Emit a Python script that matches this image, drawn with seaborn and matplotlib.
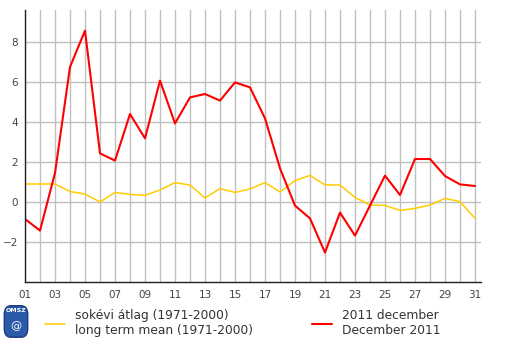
import numpy as np
import pandas as pd
import seaborn as sns
import matplotlib.pyplot as plt
from matplotlib.patches import FancyBboxPatch

days = list(range(1, 32))
mean_1971_2000 = [0.9, 0.9, 0.9, 0.52, 0.4, 0.0, 0.48, 0.38, 0.33, 0.6,
                  0.97, 0.85, 0.2, 0.67, 0.48, 0.65, 0.97, 0.5, 1.07, 1.33,
                  0.85, 0.85, 0.23, -0.15, -0.17, -0.42, -0.32, -0.15, 0.18, 0.02,
                  -0.82]
dec_2011 = [-0.85, -1.43, 1.45, 6.75, 8.57, 2.43, 2.07, 4.4, 3.18, 6.07,
            3.93, 5.23, 5.4, 5.07, 5.98, 5.73, 4.18, 1.68, -0.18, -0.82,
            -2.53, -0.53, -1.68, -0.18, 1.32, 0.35, 2.15, 2.15, 1.3, 0.88,
            0.8]
label_mean = "sokévi átlag (1971-2000)\nlong term mean (1971-2000)"
label_2011 = "2011 december\nDecember 2011"

df = pd.DataFrame({"day": days, "mean": mean_1971_2000, "dec": dec_2011})

sns.set_style("white")
plt.rcParams["font.family"] = ["DejaVu Sans"]

fig = plt.figure(figsize=(5.05, 3.42), dpi=100)
ax = fig.add_axes([25 / 505, 1 - 282 / 342, 456 / 505, 272 / 342])

sns.lineplot(data=df, x="day", y="mean", color="#ffcc00", linewidth=1.1,
             label=label_mean, ax=ax, legend=False)
sns.lineplot(data=df, x="day", y="dec", color="#ff0000", linewidth=1.5,
             label=label_2011, ax=ax, legend=False)

ax.set_xlim(1, 31.4)
ax.set_ylim(-4, 9.6)
ax.set_xticks(days)
ax.set_xticklabels([f"{d:02d}" if d % 2 == 1 else "" for d in days])
ax.set_yticks([-2, 0, 2, 4, 6, 8])
ax.set_yticks(list(range(-3, 10, 2)), minor=True)
ax.grid(True, which="major", color="#c0c0c0", linewidth=1)
ax.grid(False, which="minor")
ax.set_axisbelow(True)
ax.tick_params(axis="both", which="both", direction="out", length=4, width=1,
               color="#333333", labelsize=7.5, labelcolor="#444444", pad=2)
ax.tick_params(axis="y", which="both", length=3)
ax.set_xlabel("")
ax.set_ylabel("")
for side in ["top", "right"]:
    ax.spines[side].set_visible(False)
for side in ["left", "bottom"]:
    ax.spines[side].set_color("#222222")
    ax.spines[side].set_linewidth(1)

handles, labels = ax.get_legend_handles_labels()
fig.legend(handles, labels, loc="center left", bbox_to_anchor=(34 / 505, 1 - 323 / 342),
           ncol=2, frameon=False, fontsize=8.8, handlelength=1.65, handletextpad=0.8,
           columnspacing=4.85, labelcolor="#333333")

# OMSZ logo
lax = fig.add_axes([3 / 505, 1 - 339 / 342, 26 / 505, 35 / 342])
lax.axis("off")
lax.set_xlim(0, 1)
lax.set_ylim(0, 1)
lax.add_patch(FancyBboxPatch((0.05, 0.05), 0.9, 0.9, boxstyle="round,pad=0,rounding_size=0.25",
                             facecolor="#2a5aa8", edgecolor="#1a3a80"))
lax.text(0.5, 0.8, "OMSZ", color="white", fontsize=4.5, fontweight="bold",
         ha="center", va="center")
lax.text(0.5, 0.38, "@", color="white", fontsize=8, ha="center", va="center")

fig.savefig("out.png", dpi=100)
